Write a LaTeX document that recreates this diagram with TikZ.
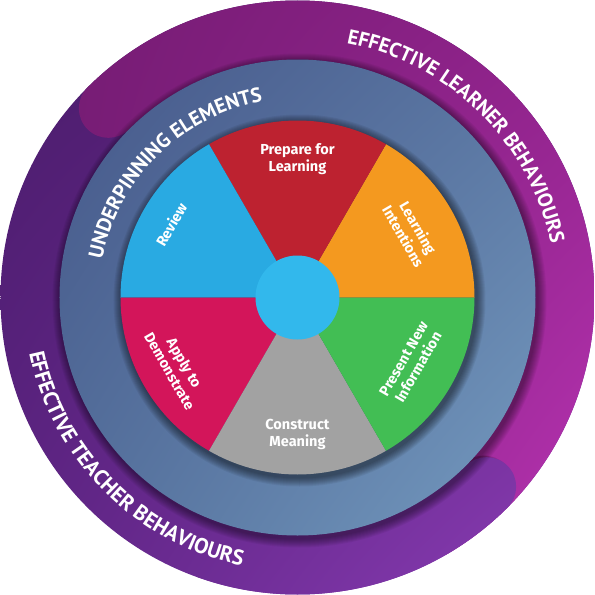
\documentclass[tikz,border=0pt]{standalone}
\usepackage{fontspec}
\setmainfont{Fira Sans}
\newfontfamily\bandfont{PT Sans}
\usetikzlibrary{decorations.text,shadings}

\definecolor{teachA}{HTML}{4A1C6B}
\definecolor{teachB}{HTML}{5A2078}
\definecolor{teachC}{HTML}{5E2484}
\definecolor{teachD}{HTML}{8D3EB8}
\definecolor{learnA}{HTML}{761C74}
\definecolor{learnB}{HTML}{8E2289}
\definecolor{learnC}{HTML}{7A1E78}
\definecolor{learnD}{HTML}{BA34B4}
\definecolor{slateA}{HTML}{46588A}
\definecolor{slateB}{HTML}{5A76A2}
\definecolor{slateC}{HTML}{54709C}
\definecolor{slateD}{HTML}{759BC0}
\definecolor{prepred}{HTML}{BD2230}
\definecolor{intorange}{HTML}{F4991F}
\definecolor{presgreen}{HTML}{42BE54}
\definecolor{constgray}{HTML}{A2A2A2}
\definecolor{applycrimson}{HTML}{D3155A}
\definecolor{reviewblue}{HTML}{29AAE2}
\definecolor{hubblue}{HTML}{32B8EC}

\tikzset{
  teachshade/.style={upper left=teachA, upper right=teachB, lower left=teachC, lower right=teachD},
  learnshade/.style={upper left=learnA, upper right=learnB, lower left=learnC, lower right=learnD},
  slateshade/.style={upper left=slateA, upper right=slateB, lower left=slateC, lower right=slateD},
  seglabel/.style={text=white, align=center, inner sep=0pt, font=\fontsize{14.5}{17}\selectfont\bfseries},
  bandtext/.style 2 args={decorate, decoration={text along path, text align=center, text color=white,
    text={|\bandfont\bfseries\fontsize{#1}{#1}\selectfont|#2}}}
}

\begin{document}
\begin{tikzpicture}[x=1pt,y=1pt]
\useasboundingbox (-297.5,-297.5) rectangle (297.5,297.5);

% outer ring
\shade[teachshade] (0,0) circle (297);

% learner band, round end at top left
\shade[learnshade] (135:297) arc[start angle=135,end angle=-60,radius=297]
  -- (-60:238) arc[start angle=-60,end angle=135,radius=238]
  arc[start angle=-45,end angle=-225,radius=29.5] -- cycle;

% teacher band end at bottom right
\foreach \k in {1,...,6}
  \fill[black,opacity=.04,shift={(-2,2)}] (-45:{297-\k}) arc[start angle=-45,end angle=-60,radius={297-\k}]
    -- (-60:238) arc[start angle=-60,end angle=-45,radius=238]
    arc[start angle=135,end angle=-45,radius={29.5-\k/2}] -- cycle;
\begin{scope}
  \clip (-45:297) arc[start angle=-45,end angle=-110,radius=297]
    -- (-110:238) arc[start angle=-110,end angle=-45,radius=238]
    arc[start angle=135,end angle=-45,radius=29.5] -- cycle;
  \shade[teachshade] (0,0) circle (297);
\end{scope}

% underpinning disc
\foreach \k in {1,...,9}
  \fill[black,opacity=.05] (2,-3) circle ({238+\k});
\shade[slateshade] (0,0) circle (238);

% wheel
\foreach \k in {1,...,9}
  \fill[black,opacity=.06] (2,-3) circle ({177+\k});
\foreach \col/\a in {intorange/0, prepred/60, reviewblue/120, applycrimson/180, constgray/240, presgreen/300}
  \fill[\col] (0,0) -- (\a:177) arc[start angle=\a,end angle=\a+60,radius=177] -- cycle;
\node[circle, fill=hubblue, minimum size=84, inner sep=0pt] (hub) at (0,0) {};

% segment labels
\node[seglabel] (prepare) at (90:138) {Prepare for\\Learning};
\node[seglabel, rotate=-60] (intentions) at (30:131) {Learning\\Intentions};
\node[seglabel, rotate=60] (present) at (-30:131) {Present New\\Information};
\node[seglabel] (construct) at (270:137) {Construct\\Meaning};
\node[seglabel, rotate=-60] (apply) at (210:139) {Apply to\\Demonstrate};
\node[seglabel, rotate=60] (review) at (150:146) {Review};

% curved titles
\path[bandtext={20.5}{UNDERPINNING ELEMENTS}] (190:199) arc[start angle=190,end angle=79,radius=199];
\path[bandtext={20.5}{EFFECTIVE LEARNER BEHAVIOURS}] (100:259) arc[start angle=100,end angle=-9,radius=259];
\path[bandtext={21.5}{EFFECTIVE TEACHER BEHAVIOURS}] (170:274) arc[start angle=170,end angle=280,radius=274];

\end{tikzpicture}
\end{document}
